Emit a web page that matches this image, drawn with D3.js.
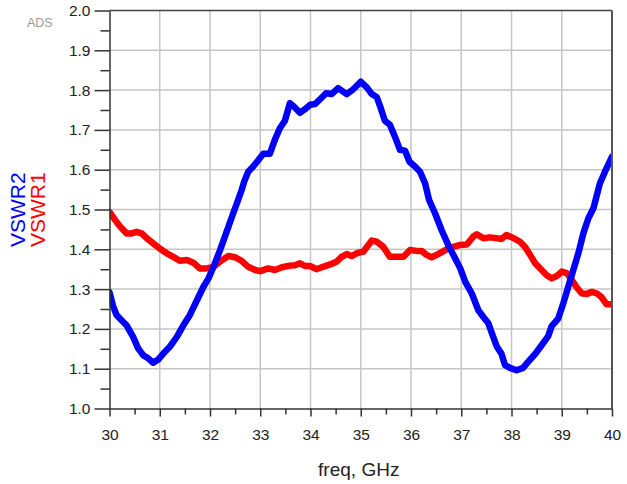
<!DOCTYPE html>
<html>
<head>
<meta charset="utf-8">
<script src="https://cdn.jsdelivr.net/npm/d3@7/dist/d3.min.js"></script>
<style>
  html, body { margin: 0; padding: 0; background: #fff; }
  svg { display: block; font-family: Arial, "Liberation Sans", sans-serif; }
</style>
</head>
<body>
<svg id="chart" width="627" height="484"></svg>
<script>
// Frequency sweep (GHz) and measured VSWR of port 2
const vswr2Freq = [30.00, 30.07, 30.14, 30.24, 30.34, 30.47, 30.57, 30.67, 30.77, 30.87, 30.97, 31.07, 31.20, 31.34, 31.47, 31.60, 31.74, 31.87, 31.97, 32.07, 32.20, 32.33, 32.46, 32.56, 32.63, 32.68, 32.76, 32.86, 32.96, 33.06, 33.19, 33.29, 33.39, 33.49, 33.59, 33.66, 33.79, 33.89, 33.99, 34.09, 34.19, 34.31, 34.42, 34.55, 34.72, 34.85, 35.00, 35.12, 35.22, 35.32, 35.40, 35.48, 35.58, 35.68, 35.78, 35.88, 35.97, 36.08, 36.18, 36.28, 36.36, 36.48, 36.61, 36.74, 36.88, 36.98, 37.08, 37.21, 37.34, 37.44, 37.54, 37.61, 37.71, 37.80, 37.87, 37.97, 38.10, 38.23, 38.33, 38.47, 38.60, 38.73, 38.80, 38.93, 39.03, 39.13, 39.23, 39.33, 39.43, 39.53, 39.63, 39.76, 39.86, 40.00];
const vswr2 = [1.292, 1.258, 1.235, 1.222, 1.209, 1.180, 1.151, 1.134, 1.126, 1.115, 1.123, 1.138, 1.155, 1.180, 1.209, 1.235, 1.272, 1.306, 1.327, 1.356, 1.398, 1.444, 1.490, 1.524, 1.549, 1.570, 1.595, 1.608, 1.624, 1.640, 1.640, 1.675, 1.704, 1.723, 1.767, 1.760, 1.743, 1.752, 1.763, 1.765, 1.777, 1.792, 1.790, 1.805, 1.790, 1.802, 1.821, 1.807, 1.790, 1.782, 1.754, 1.723, 1.713, 1.683, 1.650, 1.648, 1.620, 1.608, 1.595, 1.566, 1.524, 1.490, 1.448, 1.411, 1.377, 1.352, 1.318, 1.289, 1.247, 1.230, 1.214, 1.189, 1.155, 1.138, 1.109, 1.102, 1.096, 1.102, 1.117, 1.137, 1.159, 1.182, 1.207, 1.226, 1.264, 1.306, 1.348, 1.390, 1.440, 1.478, 1.503, 1.566, 1.595, 1.633];

// Frequency sweep (GHz) and measured VSWR of port 1
const vswr1Freq = [30.00, 30.11, 30.21, 30.34, 30.44, 30.54, 30.64, 30.74, 30.87, 31.00, 31.14, 31.27, 31.40, 31.54, 31.67, 31.80, 31.93, 32.07, 32.20, 32.36, 32.50, 32.63, 32.76, 32.90, 33.00, 33.16, 33.29, 33.43, 33.59, 33.69, 33.79, 33.89, 33.99, 34.12, 34.25, 34.39, 34.52, 34.62, 34.72, 34.82, 34.92, 35.05, 35.22, 35.32, 35.45, 35.58, 35.72, 35.85, 35.98, 36.11, 36.21, 36.31, 36.41, 36.54, 36.71, 36.84, 36.98, 37.11, 37.24, 37.31, 37.44, 37.57, 37.71, 37.80, 37.90, 38.04, 38.17, 38.27, 38.37, 38.47, 38.60, 38.70, 38.80, 38.90, 39.00, 39.10, 39.20, 39.30, 39.40, 39.50, 39.60, 39.70, 39.79, 39.89, 40.00];
const vswr1 = [1.494, 1.474, 1.457, 1.440, 1.440, 1.444, 1.440, 1.428, 1.415, 1.402, 1.390, 1.381, 1.371, 1.373, 1.366, 1.352, 1.352, 1.356, 1.369, 1.383, 1.380, 1.371, 1.356, 1.348, 1.345, 1.352, 1.348, 1.355, 1.359, 1.360, 1.365, 1.358, 1.358, 1.350, 1.356, 1.362, 1.369, 1.381, 1.388, 1.383, 1.390, 1.394, 1.422, 1.419, 1.406, 1.381, 1.381, 1.381, 1.398, 1.396, 1.396, 1.386, 1.380, 1.388, 1.400, 1.406, 1.411, 1.412, 1.432, 1.438, 1.428, 1.430, 1.428, 1.426, 1.436, 1.428, 1.419, 1.406, 1.386, 1.365, 1.348, 1.335, 1.327, 1.333, 1.344, 1.340, 1.323, 1.304, 1.289, 1.288, 1.293, 1.289, 1.280, 1.262, 1.262];

// Axis ticks
const xTicks = [30, 31, 32, 33, 34, 35, 36, 37, 38, 39, 40];
const xMinorTicks = [30.5, 31.5, 32.5, 33.5, 34.5, 35.5, 36.5, 37.5, 38.5, 39.5];
const yTicks = [1.0, 1.1, 1.2, 1.3, 1.4, 1.5, 1.6, 1.7, 1.8, 1.9, 2.0];
const yMinorTicks = [1.05, 1.15, 1.25, 1.35, 1.45, 1.55, 1.65, 1.75, 1.85, 1.95];

const plot = { left: 109.5, right: 612, top: 10.5, bottom: 408.5 };

const svg = d3.select("#chart");

const x = d3.scaleLinear().domain([30, 40]).range([plot.left, plot.right]);
const y = d3.scaleLinear().domain([1.0, 2.0]).range([plot.bottom, plot.top]);

svg.append("defs").append("clipPath").attr("id", "plot-clip")
  .append("rect")
  .attr("x", plot.left).attr("y", plot.top)
  .attr("width", plot.right - plot.left).attr("height", plot.bottom - plot.top);

// Grid
const grid = svg.append("g").attr("stroke", "#c6c6c6").attr("stroke-width", 1.5);
grid.selectAll("line.gx").data(xTicks.slice(1, -1)).join("line")
  .attr("x1", d => x(d)).attr("x2", d => x(d))
  .attr("y1", plot.top).attr("y2", plot.bottom);
grid.selectAll("line.gy").data(yTicks.slice(1, -1)).join("line")
  .attr("y1", d => y(d)).attr("y2", d => y(d))
  .attr("x1", plot.left).attr("x2", plot.right);

// Curves
const line = d3.line().x(d => x(d[0])).y(d => y(d[1]));
const series = [
  { f: vswr1Freq, v: vswr1, color: "#ff0000" },
  { f: vswr2Freq, v: vswr2, color: "#0000ff" }
];
const curves = svg.append("g").attr("clip-path", "url(#plot-clip)");
series.forEach(s => {
  curves.append("path")
    .datum(s.f.map((f, i) => [f, s.v[i]]))
    .attr("d", line)
    .attr("fill", "none")
    .attr("stroke", s.color)
    .attr("stroke-width", 6.5)
    .attr("stroke-linejoin", "round")
    .attr("stroke-linecap", "round");
});

// Frame (top and right)
svg.append("line").attr("x1", plot.left).attr("x2", plot.right)
  .attr("y1", plot.top).attr("y2", plot.top)
  .attr("stroke", "#444").attr("stroke-width", 1.5);
svg.append("line").attr("x1", plot.right).attr("x2", plot.right)
  .attr("y1", plot.top).attr("y2", plot.bottom)
  .attr("stroke", "#555").attr("stroke-width", 2);

// Axes
const axisColor = "#222";
const yAxis = svg.append("g").attr("transform", `translate(${plot.left},0)`)
  .call(d3.axisLeft(y).tickValues(yTicks).tickFormat(d3.format(".1f"))
    .tickSizeInner(15).tickSizeOuter(0).tickPadding(4));
yAxis.selectAll("text").attr("font-size", 15.5).attr("fill", axisColor)
  .attr("font-family", "Arial, 'Liberation Sans', sans-serif");
yAxis.select(".domain").attr("stroke", "#333").attr("stroke-width", 1.5);
yAxis.selectAll(".tick line").attr("stroke", "#333").attr("stroke-width", 1.5);

svg.append("g").attr("transform", `translate(${plot.left},0)`)
  .call(d3.axisLeft(y).tickValues(yMinorTicks).tickFormat("").tickSizeInner(9).tickSizeOuter(0))
  .call(g => g.select(".domain").remove())
  .selectAll(".tick line").attr("stroke", "#333").attr("stroke-width", 1.5);

const xAxis = svg.append("g").attr("transform", `translate(0,${plot.bottom})`)
  .call(d3.axisBottom(x).tickValues(xTicks).tickFormat(d3.format("d"))
    .tickSizeInner(8).tickSizeOuter(0).tickPadding(12));
xAxis.selectAll("text").attr("font-size", 15.5).attr("fill", axisColor)
  .attr("font-family", "Arial, 'Liberation Sans', sans-serif");
xAxis.select(".domain").attr("stroke", "#333").attr("stroke-width", 1.5);
xAxis.selectAll(".tick line").attr("stroke", "#333").attr("stroke-width", 1.5);

svg.append("g").attr("transform", `translate(0,${plot.bottom})`)
  .call(d3.axisBottom(x).tickValues(xMinorTicks).tickFormat("").tickSizeInner(6).tickSizeOuter(0))
  .call(g => g.select(".domain").remove())
  .selectAll(".tick line").attr("stroke", "#333").attr("stroke-width", 1.5);

// Axis titles
svg.append("text")
  .attr("x", (plot.left + plot.right) / 2 - 2).attr("y", 476)
  .attr("text-anchor", "middle").attr("font-size", 19).attr("fill", "#222")
  .text("freq, GHz");

svg.append("text")
  .attr("transform", "translate(25,247) rotate(-90)")
  .attr("font-size", 21).attr("fill", "#0000ff")
  .text("VSWR2");
svg.append("text")
  .attr("transform", "translate(45,247) rotate(-90)")
  .attr("font-size", 21).attr("fill", "#ff0000")
  .text("VSWR1");

// Tool badge
svg.append("text")
  .attr("x", 27).attr("y", 27)
  .attr("font-size", 12.5).attr("fill", "#9a9a9a")
  .text("ADS");
</script>
</body>
</html>
